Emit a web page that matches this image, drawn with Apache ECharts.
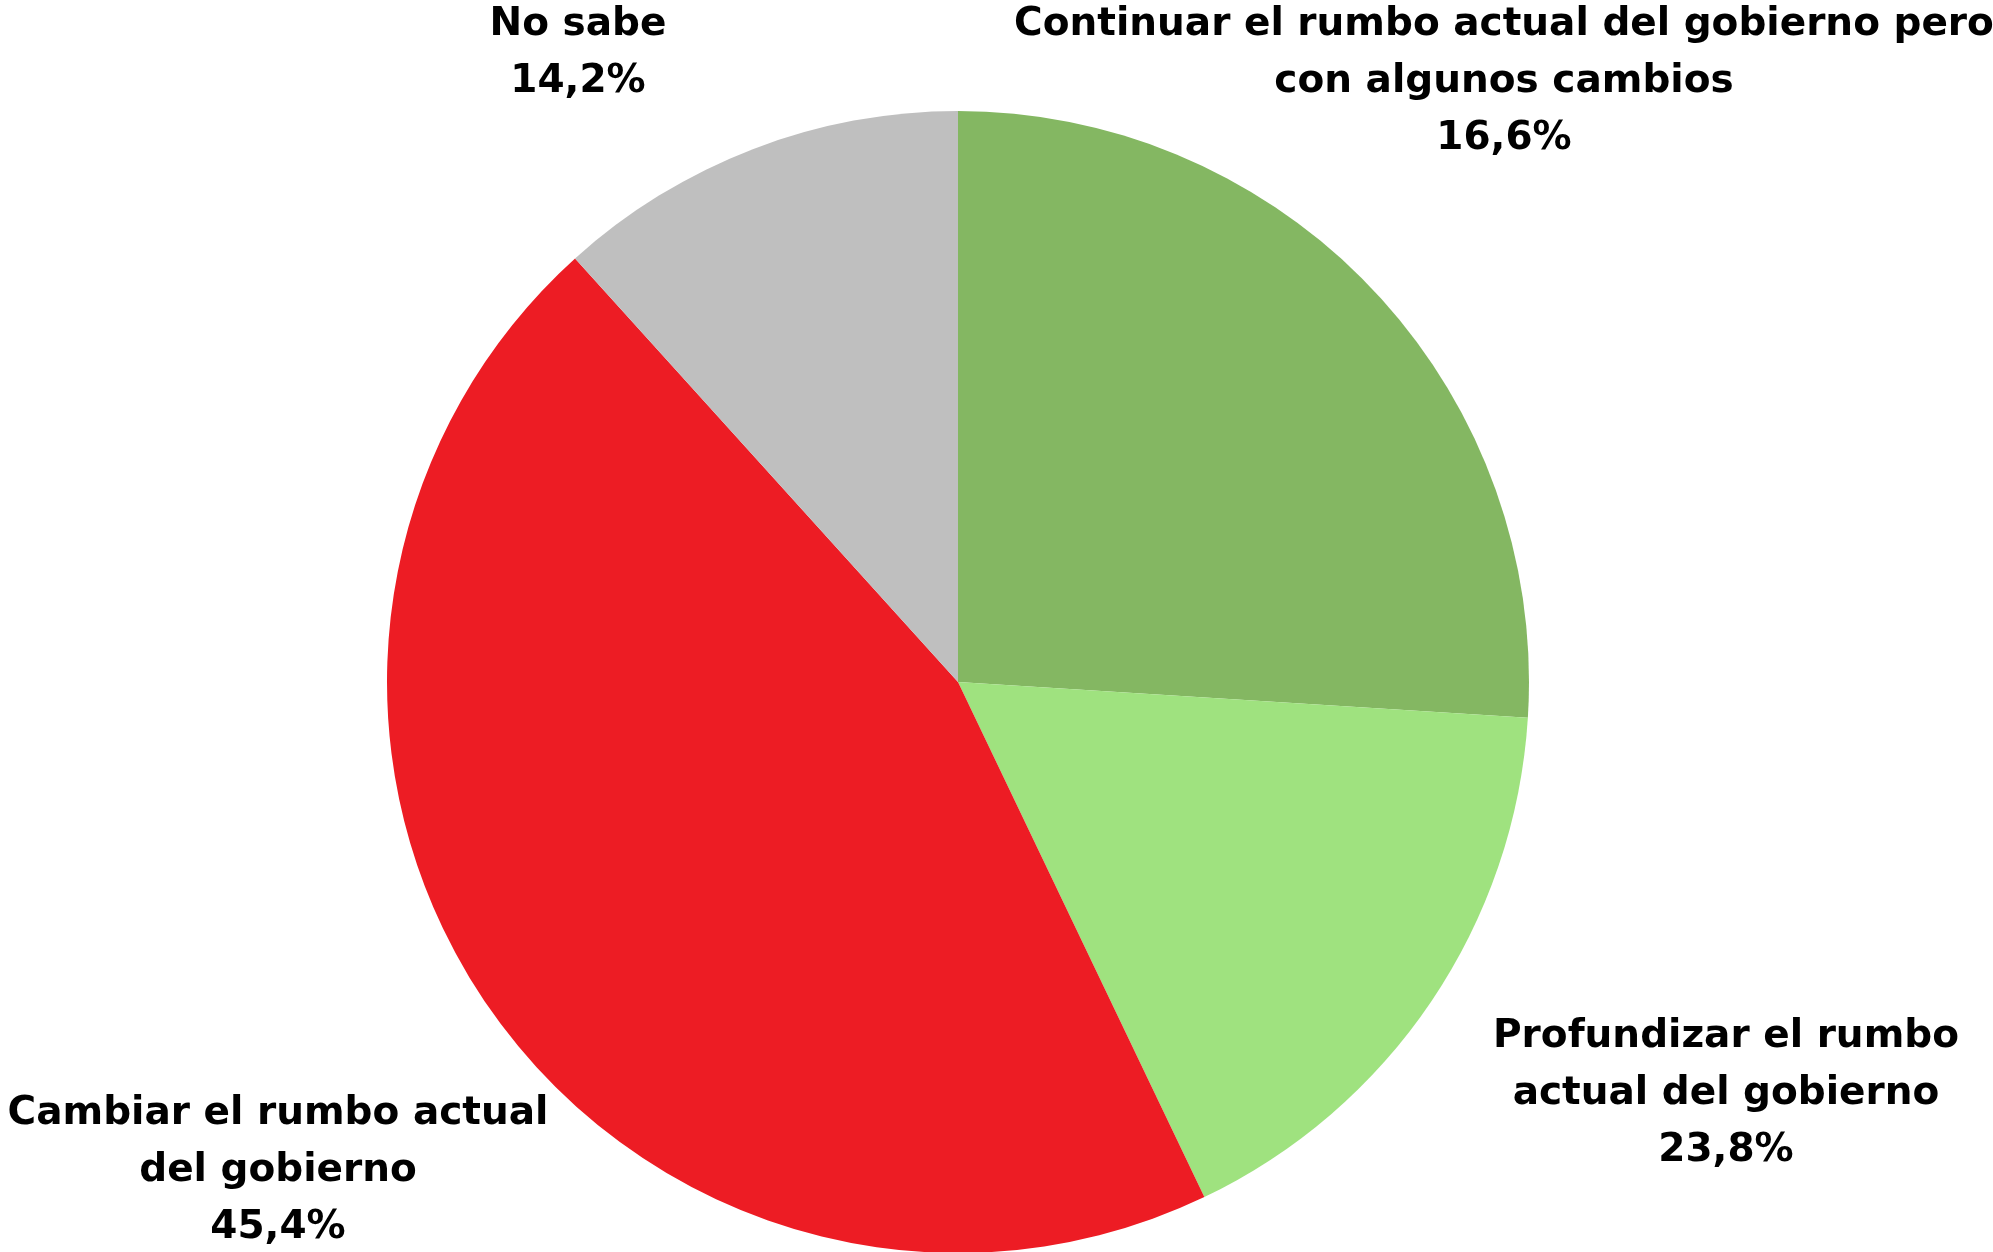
<!DOCTYPE html>
<html>
<head>
<meta charset="utf-8">
<script src="https://cdn.jsdelivr.net/npm/echarts@6/dist/echarts.min.js"></script>
<style>
html,body{margin:0;padding:0;background:#fff;}
#chart{width:1993px;height:1252px;}
</style>
</head>
<body>
<div id="chart"></div>
<script>
// Categories (label text, line breaks as in the reference)
const categories = [
  "Continuar el rumbo actual del gobierno pero\ncon algunos cambios",
  "Profundizar el rumbo\nactual del gobierno",
  "Cambiar el rumbo actual\ndel gobierno",
  "No sabe"
];
// Slice sizes as drawn in the picture (percent of the circle)
const sliceValues = [26.0, 16.9, 45.4, 11.7];
// Percentages printed in the labels
const labelPercents = ["16,6%", "23,8%", "45,4%", "14,2%"];
const colors = ["#84B762", "#9FE27F", "#ED1C24", "#BFBFBF"];
// Label block centres (layout only)
const labelPos = [[1504, 82], [1726, 1094], [278, 1171], [578, 53]];

const chart = echarts.init(document.getElementById('chart'), null, {renderer: 'canvas'});
chart.setOption({
  backgroundColor: '#ffffff',
  animation: false,
  series: [{
    type: 'pie',
    center: [958, 682],
    radius: 571,
    startAngle: 90,
    clockwise: true,
    avoidLabelOverlap: false,
    silent: true,
    data: categories.map((c, i) => ({
      name: c,
      value: sliceValues[i],
      itemStyle: {color: colors[i]}
    })),
    itemStyle: {borderWidth: 0},
    label: {
      show: true,
      position: 'outside',
      formatter: p => p.name + '\n' + labelPercents[p.dataIndex],
      color: '#000',
      fontFamily: '"DejaVu Sans", sans-serif',
      fontWeight: 'bold',
      fontSize: 39,
      lineHeight: 57,
      align: 'center'
    },
    labelLine: {show: false},
    labelLayout: function (params) {
      const pos = labelPos[params.dataIndex];
      return {x: pos[0], y: pos[1], align: 'center', verticalAlign: 'middle'};
    }
  }]
});
</script>
</body>
</html>
